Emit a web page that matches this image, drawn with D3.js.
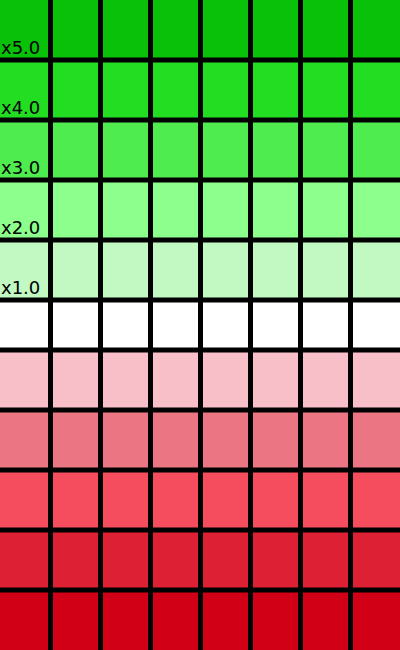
<!DOCTYPE html>
<html><head><meta charset="utf-8">
<script src="https://cdn.jsdelivr.net/npm/d3@7"></script>
<style>html,body{margin:0;padding:0;background:#fff;}svg{display:block;}</style>
</head><body>
<script>
// Levels (fold-change steps): positive = up (green), 0 = neutral, negative = down (red)
const levels = [5, 4, 3, 2, 1, 0, -1, -2, -3, -4, -5];
const levelColors = ["#08c108", "#22dd22", "#4fec4f", "#8cff8c", "#c2f9c2", "#ffffff",
                     "#f8bfc8", "#ec7583", "#f54d5e", "#de2035", "#d10016"];
const labels = ["x5.0", "x4.0", "x3.0", "x2.0", "x1.0", "", "", "", "", "", ""];
const columns = ["c1", "c2", "c3", "c4", "c5", "c6", "c7", "c8"];

(function () {
  const W = 400, H = 650;
  const svg = d3.select("body").append("svg").attr("width", W).attr("height", H);

  const x = d3.scaleBand().domain(columns).range([0, W]);
  // piecewise scale: level l spans [l+1, l]; the neutral row is narrower
  const y = d3.scaleLinear().domain([6, 1, 0, -5]).range([0, 300, 350, H]);
  const yTop = l => y(l + 1);
  const yBot = l => y(l);
  const color = d3.scaleOrdinal().domain(levels).range(levelColors);

  const cells = [];
  levels.forEach(l => columns.forEach(c => cells.push({l, c})));

  svg.append("g").selectAll("rect").data(cells).join("rect")
    .attr("x", d => x(d.c)).attr("y", d => yTop(d.l))
    .attr("width", x.bandwidth()).attr("height", d => yBot(d.l) - yTop(d.l))
    .attr("fill", d => color(d.l));

  const lines = svg.append("g").attr("stroke", "#000").attr("stroke-width", 5);
  lines.selectAll("line.v").data(columns.slice(1)).join("line").attr("class", "v")
    .attr("x1", d => x(d) + 0.5).attr("x2", d => x(d) + 0.5).attr("y1", 0).attr("y2", H);
  lines.selectAll("line.h").data(levels.slice(0, -1)).join("line").attr("class", "h")
    .attr("x1", 0).attr("x2", W).attr("y1", d => yBot(d)).attr("y2", d => yBot(d));

  svg.append("g").selectAll("text").data(levels.filter((l, i) => labels[i]))
    .join("text")
    .attr("x", 1).attr("y", d => yBot(d) - 6)
    .attr("font-family", "DejaVu Sans").attr("font-size", 18).attr("fill", "#000")
    .text(d => labels[levels.indexOf(d)]);
})();
</script>
</body></html>
